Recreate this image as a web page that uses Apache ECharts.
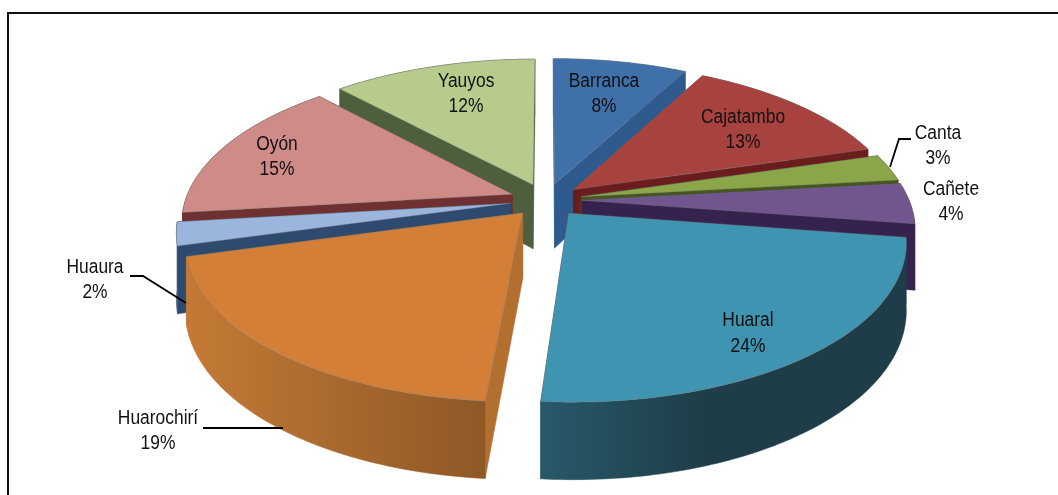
<!DOCTYPE html>
<html>
<head>
<meta charset="utf-8">
<style>
  html, body { margin: 0; padding: 0; background: #fff; }
  #chart { width: 1058px; height: 495px; }
</style>
</head>
<body>
<div id="chart"></div>
<script src="https://cdn.jsdelivr.net/npm/echarts@6/dist/echarts.min.js"></script>
<script>
var provinces = ['Barranca', 'Cajatambo', 'Canta', 'Cañete', 'Huaral', 'Huarochirí', 'Huaura', 'Oyón', 'Yauyos'];
var shares = [7.8, 12.6, 2.8, 4.2, 23.9, 19.4, 2.4, 15.0, 11.9];

// colours per slice
var topColors = ['#3f70aa', '#a8423f', '#8aa648', '#71558f', '#3e94b1', '#d37f38', '#9bb5dd', '#cf8b88', '#b7cb8d'];
var sideColors = ['#2f5a8e', '#6a1d1c', '#45561f', '#35224f', '#23505f', '#b36f30', '#2f4a6f', '#6e3030', '#4e5f3e'];
var outerLeft = ['#2f5a8e', '#6a1d1c', '#45561f', '#35224f', '#28596a', '#c47a35', '#3a5480', '#6e3030', '#4e5f3e'];
var outerRight = ['#2f5a8e', '#6a1d1c', '#45561f', '#35224f', '#1e3d48', '#8e5826', '#3a5480', '#6e3030', '#4e5f3e'];
var outerStop = [1, 1, 1, 1, 0.45, 1, 1, 1, 1];

// label places on the page: name x, name y, percent x, percent y
var labelPlaces = [
  [604, 81, 604, 106], [743, 117, 743, 142], [938, 133, 938, 158],
  [951, 189, 951, 214], [748, 320, 748, 346], [158, 418, 158, 443],
  [95, 267, 95, 292], [277, 144, 277, 169], [466, 81, 466, 106]
];
// leader lines, by slice index
var leaders = {
  2: [[890, 167], [899, 139], [911, 139]],
  5: [[203, 428], [283, 428]],
  6: [[130, 276], [143, 276], [186, 303]]
};

// view of the pie
var cx = 546, cy = 200;
var radius = 327;      // pie radius
var squash = 0.464;    // tilt
var persp = 0.17;      // how much nearer parts grow
var explode = 36;      // slices pulled out of the centre
var thickness = 65;

function project(px, pz, down) {
  var s = 1 / (1 + persp * pz / radius);
  var hs = 1 + (s - 1) * 0.85;
  return [cx + px * s, cy - squash * pz * s + (down ? thickness * hs : 0)];
}

// start and end angle of every slice from the shares
var total = shares.reduce(function (a, b) { return a + b; }, 0);
var slices = [];
var run = 0;
shares.forEach(function (v, i) {
  var a0 = run / total * Math.PI * 2;
  run += v;
  var a1 = run / total * Math.PI * 2;
  slices.push({ index: i, a0: a0, a1: a1, mid: (a0 + a1) / 2 });
});
// back slices get painted first
var paintOrder = slices.slice().sort(function (a, b) { return Math.cos(b.mid) - Math.cos(a.mid); });

function narrowText(x, y, str) {
  // no narrow font on the box, so squeeze the regular one
  return {
    type: 'text', z2: 100, x: x, y: y, scaleX: 0.87,
    style: {
      text: str,
      font: '20px "Liberation Sans", sans-serif',
      fill: '#111',
      textAlign: 'center',
      textVerticalAlign: 'middle'
    }
  };
}

function renderSlice(params, api) {
  var sl = slices[api.value(0)];
  var i = sl.index;
  var ox = explode * Math.sin(sl.mid), oz = explode * Math.cos(sl.mid);

  var topArc = [], lowArc = [];
  var steps = Math.max(4, Math.ceil((sl.a1 - sl.a0) / 0.017));
  for (var n = 0; n <= steps; n++) {
    var a = sl.a0 + (sl.a1 - sl.a0) * n / steps;
    var px = ox + radius * Math.sin(a), pz = oz + radius * Math.cos(a);
    topArc.push(project(px, pz, false));
    lowArc.push(project(px, pz, true));
  }
  var apexTop = project(ox, oz, false), apexLow = project(ox, oz, true);

  var face = function (pts, fill) {
    return { type: 'polygon', shape: { points: pts }, style: { fill: fill, stroke: fill, lineWidth: 0.5 } };
  };
  var startWall = face([apexTop, topArc[0], lowArc[0], apexLow], sideColors[i]);
  var endWall = face([apexTop, topArc[steps], lowArc[steps], apexLow], sideColors[i]);
  var outer = face(topArc.concat(lowArc.slice().reverse()), new echarts.graphic.LinearGradient(0, 0, 1, 0, [
    { offset: 0, color: outerLeft[i] },
    { offset: outerStop[i], color: outerRight[i] },
    { offset: 1, color: outerRight[i] }
  ]));
  var top = face([apexTop].concat(topArc), topColors[i]);
  // thin soft rim around the top face
  top.style.stroke = 'rgba(125,125,125,0.4)';
  top.style.lineWidth = 1;

  var children = Math.cos(sl.mid) > 0.05
    ? [outer, startWall, endWall, top]
    : [startWall, endWall, outer, top];

  var place = labelPlaces[i];
  children.push(narrowText(place[0], place[1], provinces[i]));
  children.push(narrowText(place[2], place[3], Math.round(shares[i]) + '%'));
  if (leaders[i]) {
    children.push({
      type: 'polyline', z2: 100,
      shape: { points: leaders[i] },
      style: { fill: null, stroke: '#000', lineWidth: 1.8 }
    });
  }
  return { type: 'group', children: children };
}

var chart = echarts.init(document.getElementById('chart'));
chart.setOption({
  animation: false,
  backgroundColor: '#fff',
  graphic: [{
    type: 'polyline',
    shape: { points: [[8, 495], [8, 13], [1058, 13]] },
    style: { fill: null, stroke: '#111', lineWidth: 2 }
  }],
  series: [{
    type: 'custom',
    coordinateSystem: 'none',
    renderItem: renderSlice,
    data: paintOrder.map(function (s) { return [s.index]; })
  }]
});
</script>
</body>
</html>
